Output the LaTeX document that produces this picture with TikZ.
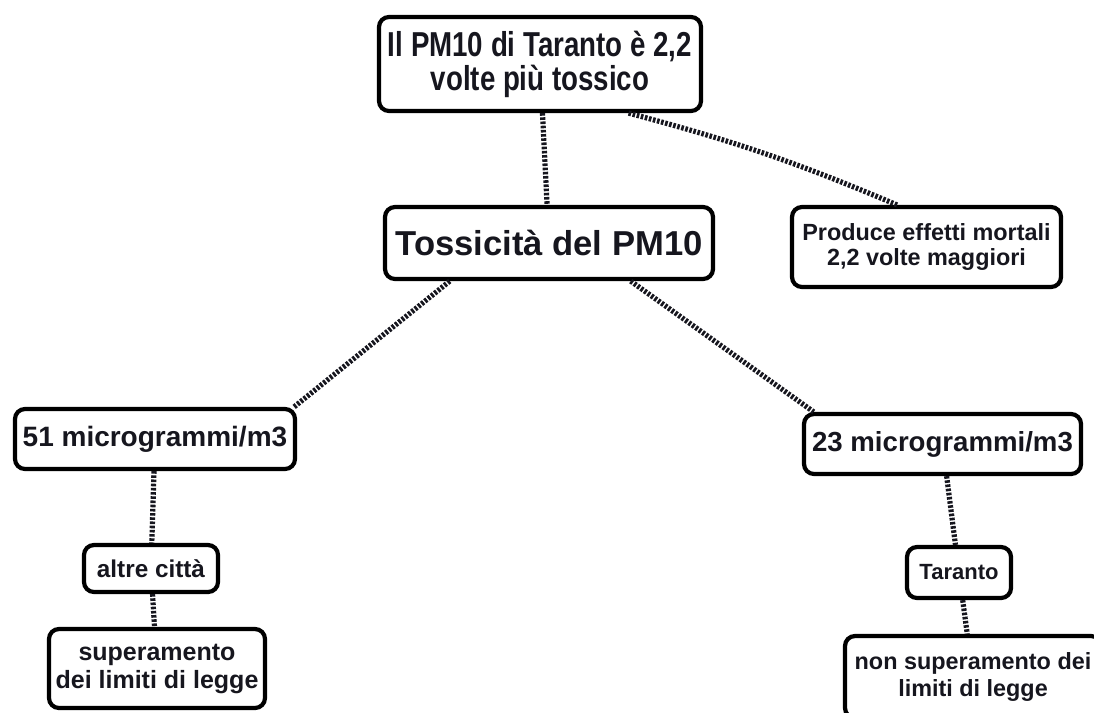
\documentclass[tikz,border=0pt]{standalone}
\usepackage{fontspec}
\setmainfont{Liberation Sans}
\newfontfamily\condfont[FakeStretch=0.8]{Liberation Sans}
\definecolor{ink}{RGB}{22,22,30}
\begin{document}
\begin{tikzpicture}[x=1pt,y=-1pt]
\tikzset{
  box/.style={draw=black, line width=4.2pt, rounded corners=10pt, fill=white,
    align=center, inner sep=0pt, text=ink},
  conn/.style={draw=ink, line width=5.2pt, dash pattern=on 2.6pt off 1.6pt},
}
\useasboundingbox (0,0) rectangle (1094,712);
\clip (0,0) rectangle (1094,712);

\node[box, minimum width=322pt, minimum height=94pt,
  font=\condfont\bfseries\fontsize{34.6pt}{34pt}\selectfont] (top) at (540,64)
  {Il PM10 di Taranto è 2,2\\volte più tossico};
\node[box, minimum width=328pt, minimum height=72pt,
  font=\bfseries\fontsize{34.6pt}{38pt}\selectfont] (mid) at (549,243)
  {Tossicità del PM10};
\node[box, minimum width=269pt, minimum height=80pt,
  font=\bfseries\fontsize{23.4pt}{25pt}\selectfont] (prod) at (926.5,247)
  {Produce effetti mortali\\2,2 volte maggiori};
\node[box, minimum width=280pt, minimum height=60pt,
  font=\bfseries\fontsize{28pt}{32pt}\selectfont] (b51) at (155,439)
  {51 microgrammi/m3};
\node[box, minimum width=277pt, minimum height=60pt,
  font=\bfseries\fontsize{27.6pt}{32pt}\selectfont] (b23) at (942.5,444)
  {23 microgrammi/m3};
\node[box, minimum width=134pt, minimum height=47pt,
  font=\bfseries\fontsize{24.3pt}{28pt}\selectfont] (altre) at (151,568.5)
  {altre città};
\node[box, minimum width=216pt, minimum height=79pt,
  font=\bfseries\fontsize{25pt}{28pt}\selectfont] (super) at (157,668.5)
  {superamento\\dei limiti di legge};
\node[box, minimum width=104pt, minimum height=51pt,
  font=\bfseries\fontsize{22pt}{26pt}\selectfont] (tar) at (959,572.5)
  {Taranto};
\node[box, minimum width=256pt, minimum height=82pt,
  font=\bfseries\fontsize{23.4pt}{27pt}\selectfont] (nonsup) at (973,677)
  {non superamento dei\\limiti di legge};

\draw[conn] (top) -- (mid);
\draw[conn] (top.-29) to[bend left=4] (prod.125);
\draw[conn] (mid.201) -- (b51.13.5);
\draw[conn] (mid.-25) -- (b23.166.5);
\draw[conn] (b51) -- (altre);
\draw[conn] (altre) -- (super);
\draw[conn] (b23) -- (tar);
\draw[conn] (tar) -- (nonsup);
\end{tikzpicture}
\end{document}
